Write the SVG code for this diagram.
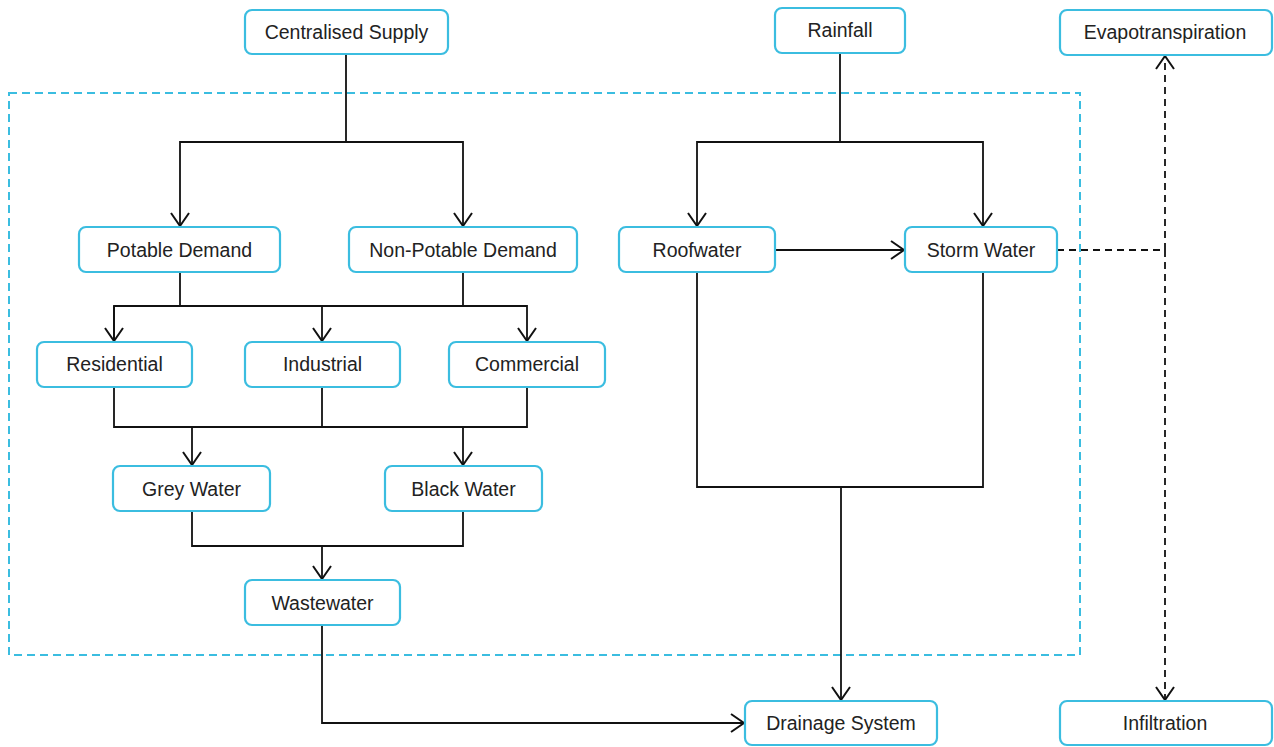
<svg xmlns="http://www.w3.org/2000/svg" width="1274" height="747" viewBox="0 0 1274 747">
<style>
.box{fill:#fff;stroke:#3bbde0;stroke-width:2.2}
.lbl{font-family:"Liberation Sans",Arial,sans-serif;font-size:19.5px;fill:#222;text-anchor:middle;dominant-baseline:central}
.ln{fill:none;stroke:#111;stroke-width:1.8}
.dl{fill:none;stroke:#111;stroke-width:1.8;stroke-dasharray:7,5}
.frame{fill:none;stroke:#3bbde0;stroke-width:2;stroke-dasharray:8,5}
</style>
<defs>
<marker id="arr" markerUnits="userSpaceOnUse" markerWidth="22" markerHeight="22" refX="15" refY="10" orient="auto">
<path d="M2,1 L15,10 L2,19" fill="none" stroke="#111" stroke-width="2"/>
</marker>
</defs>
<rect class="frame" x="9" y="93" width="1071" height="562"/>
<g id="connectors">
<path class="ln" d="M346,54 V142 H180 V226" marker-end="url(#arr)"/>
<path class="ln" d="M346,142 H463 V226" marker-end="url(#arr)"/>
<path class="ln" d="M840,53 V142 H697 V226" marker-end="url(#arr)"/>
<path class="ln" d="M840,142 H983 V226" marker-end="url(#arr)"/>
<path class="ln" d="M180,272 V306"/>
<path class="ln" d="M463,272 V306"/>
<path class="ln" d="M114,341 V306 H527 V341" marker-end="url(#arr)"/>
<path class="ln" d="M114,306 V341" marker-end="url(#arr)"/>
<path class="ln" d="M322,306 V341" marker-end="url(#arr)"/>
<path class="ln" d="M114,387 V427 H527 V387"/>
<path class="ln" d="M322,387 V427"/>
<path class="ln" d="M192,427 V465" marker-end="url(#arr)"/>
<path class="ln" d="M463,427 V465" marker-end="url(#arr)"/>
<path class="ln" d="M192,511 V546 H463 V511"/>
<path class="ln" d="M322,546 V579" marker-end="url(#arr)"/>
<path class="ln" d="M322,625 V723 H744" marker-end="url(#arr)"/>
<path class="ln" d="M775,250 H904" marker-end="url(#arr)"/>
<path class="ln" d="M697,272 V487 H983 V272"/>
<path class="ln" d="M841,487 V700" marker-end="url(#arr)"/>
<path class="dl" d="M1057,250 H1165"/>
<path class="dl" d="M1165,250 V56" marker-end="url(#arr)"/>
<path class="dl" d="M1165,250 V700" marker-end="url(#arr)"/>
</g>
<g id="centralised-supply"><rect class="box" x="245" y="10" width="203" height="44" rx="7"/><text class="lbl" x="346.5" y="32">Centralised Supply</text></g>
<g id="rainfall"><rect class="box" x="775" y="8" width="130" height="45" rx="7"/><text class="lbl" x="840" y="30">Rainfall</text></g>
<g id="evapotranspiration"><rect class="box" x="1060" y="10" width="212" height="45" rx="7"/><text class="lbl" x="1165" y="32">Evapotranspiration</text></g>
<g id="potable-demand"><rect class="box" x="79" y="227" width="201" height="45" rx="7"/><text class="lbl" x="179.5" y="250">Potable Demand</text></g>
<g id="non-potable-demand"><rect class="box" x="349" y="227" width="228" height="45" rx="7"/><text class="lbl" x="463" y="250">Non-Potable Demand</text></g>
<g id="roofwater"><rect class="box" x="619" y="227" width="156" height="45" rx="7"/><text class="lbl" x="697" y="250">Roofwater</text></g>
<g id="storm-water"><rect class="box" x="905" y="227" width="152" height="45" rx="7"/><text class="lbl" x="981" y="250">Storm Water</text></g>
<g id="residential"><rect class="box" x="37" y="342" width="155" height="45" rx="7"/><text class="lbl" x="114.5" y="364">Residential</text></g>
<g id="industrial"><rect class="box" x="245" y="342" width="155" height="45" rx="7"/><text class="lbl" x="322.5" y="364">Industrial</text></g>
<g id="commercial"><rect class="box" x="449" y="342" width="156" height="45" rx="7"/><text class="lbl" x="527" y="364">Commercial</text></g>
<g id="grey-water"><rect class="box" x="113" y="466" width="157" height="45" rx="7"/><text class="lbl" x="191.5" y="489">Grey Water</text></g>
<g id="black-water"><rect class="box" x="385" y="466" width="157" height="45" rx="7"/><text class="lbl" x="463.5" y="489">Black Water</text></g>
<g id="wastewater"><rect class="box" x="245" y="580" width="155" height="45" rx="7"/><text class="lbl" x="322.5" y="603">Wastewater</text></g>
<g id="drainage-system"><rect class="box" x="745" y="701" width="192" height="44" rx="7"/><text class="lbl" x="841" y="723">Drainage System</text></g>
<g id="infiltration"><rect class="box" x="1060" y="701" width="212" height="44" rx="7"/><text class="lbl" x="1165" y="723">Infiltration</text></g>
</svg>
